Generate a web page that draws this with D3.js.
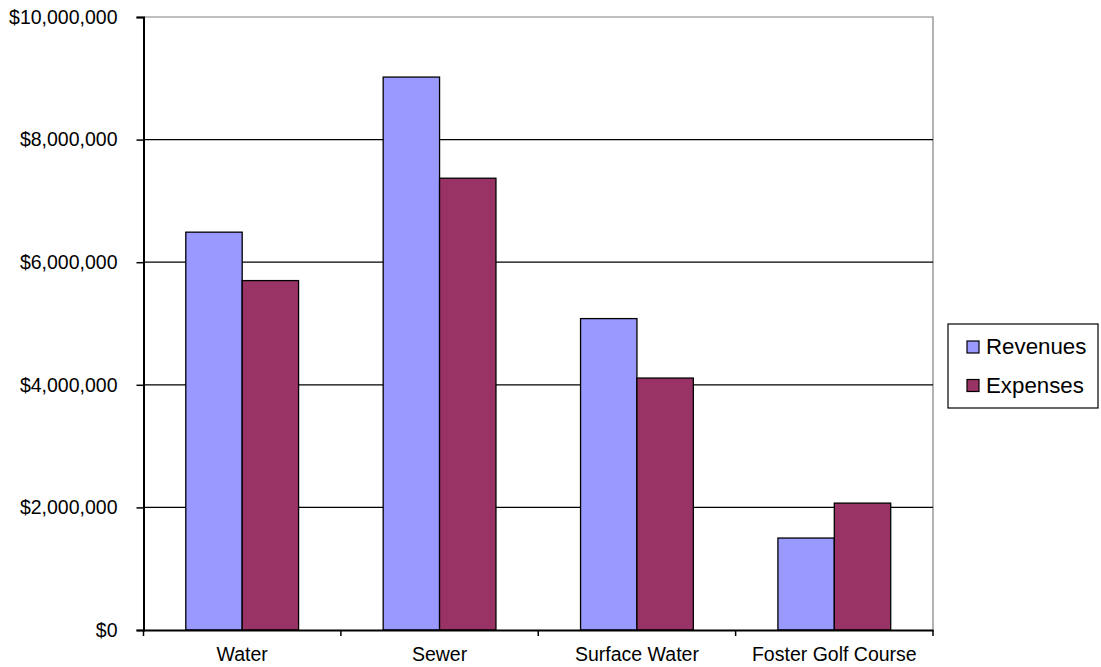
<!DOCTYPE html>
<html>
<head>
<meta charset="utf-8">
<script src="https://cdn.jsdelivr.net/npm/d3@7"></script>
<style>
  html, body { margin: 0; padding: 0; background: #fff; }
  svg { display: block; font-family: "Liberation Sans", Arial, sans-serif; }
</style>
</head>
<body>
<svg id="chart" width="1101" height="667"></svg>
<script>
// Fund totals by enterprise
const categories = ["Water", "Sewer", "Surface Water", "Foster Golf Course"];
const seriesNames = ["Revenues", "Expenses"];
const revenues = [6490000, 9020000, 5080000, 1500000];
const expenses = [5700000, 7370000, 4110000, 2070000];
const yTicks = [0, 2000000, 4000000, 6000000, 8000000, 10000000];
const colors = ["#9999FF", "#993366"];

const svg = d3.select("#chart");
const plot = { left: 143.5, right: 933, top: 17, bottom: 630 };

const x = d3.scaleBand().domain(categories).range([plot.left, plot.right]).padding(0);
const barW = x.bandwidth() / 3.5;
const xs = d3.scaleBand().domain(seriesNames)
  .range([barW * 0.75, x.bandwidth() - barW * 0.75]).padding(0);
const y = d3.scaleLinear().domain([0, 10000000]).range([plot.bottom, plot.top]);
const fmt = v => "$" + d3.format(",")(v);

// plot area border (top and right)
svg.append("path")
  .attr("d", `M${plot.left},${plot.top}H${plot.right}V${plot.bottom}`)
  .attr("fill", "none").attr("stroke", "#808080").attr("stroke-width", 1.2);

// horizontal gridlines
svg.append("g").selectAll("line")
  .data(yTicks.filter(d => d > 0 && d < 10000000))
  .join("line")
  .attr("x1", plot.left).attr("x2", plot.right)
  .attr("y1", d => y(d)).attr("y2", d => y(d))
  .attr("stroke", "#000").attr("stroke-width", 1.3);

// bars
const rows = categories.map((c, i) => ({ cat: c, vals: [revenues[i], expenses[i]] }));
const groups = svg.append("g").selectAll("g")
  .data(rows).join("g")
  .attr("transform", d => `translate(${x(d.cat)},0)`);
groups.selectAll("rect")
  .data(d => d.vals.map((v, j) => ({ name: seriesNames[j], v, j })))
  .join("rect")
  .attr("x", d => xs(d.name))
  .attr("width", xs.bandwidth())
  .attr("y", d => y(d.v))
  .attr("height", d => y(0) - y(d.v))
  .attr("fill", d => colors[d.j])
  .attr("stroke", "#000").attr("stroke-width", 1.3);

// y axis
const yAxis = svg.append("g")
  .attr("transform", `translate(${plot.left},0)`)
  .call(d3.axisLeft(y).tickValues(yTicks).tickFormat(fmt).tickSize(7).tickPadding(19));
yAxis.select(".domain").attr("stroke", "#000").attr("stroke-width", 2);
yAxis.selectAll(".tick line").attr("stroke", "#000").attr("stroke-width", 1.5);
yAxis.selectAll(".tick text")
  .attr("font-size", 19.5).attr("fill", "#000")
  .attr("font-family", "'Liberation Sans', Arial, sans-serif");

// x axis with ticks at category boundaries
const xAxis = svg.append("g")
  .attr("transform", `translate(0,${plot.bottom})`)
  .call(d3.axisBottom(x).tickSize(0).tickPadding(17));
xAxis.select(".domain").attr("stroke", "#000").attr("stroke-width", 2);
xAxis.selectAll(".tick text")
  .attr("font-size", 19.5).attr("fill", "#000")
  .attr("font-family", "'Liberation Sans', Arial, sans-serif");
const bounds = categories.map(c => x(c)).concat([x.range()[1]]);
xAxis.append("g").selectAll("line")
  .data(bounds).join("line")
  .attr("x1", d => d).attr("x2", d => d)
  .attr("y1", 0).attr("y2", 6)
  .attr("stroke", "#000").attr("stroke-width", 1.5);

// legend
const legend = svg.append("g").attr("transform", "translate(948,324)");
legend.append("rect")
  .attr("width", 150).attr("height", 84)
  .attr("fill", "#fff").attr("stroke", "#000").attr("stroke-width", 1.2);
const items = legend.selectAll("g.item")
  .data(seriesNames).join("g").attr("class", "item")
  .attr("transform", (d, i) => `translate(0,${i * 38.5})`);
items.append("rect")
  .attr("x", 19).attr("y", 17).attr("width", 12).attr("height", 12)
  .attr("fill", (d, i) => colors[i]).attr("stroke", "#000").attr("stroke-width", 1.2);
items.append("text")
  .attr("x", 38).attr("y", 30)
  .attr("font-size", 22.3).attr("fill", "#000")
  .text(d => d);
</script>
</body>
</html>
